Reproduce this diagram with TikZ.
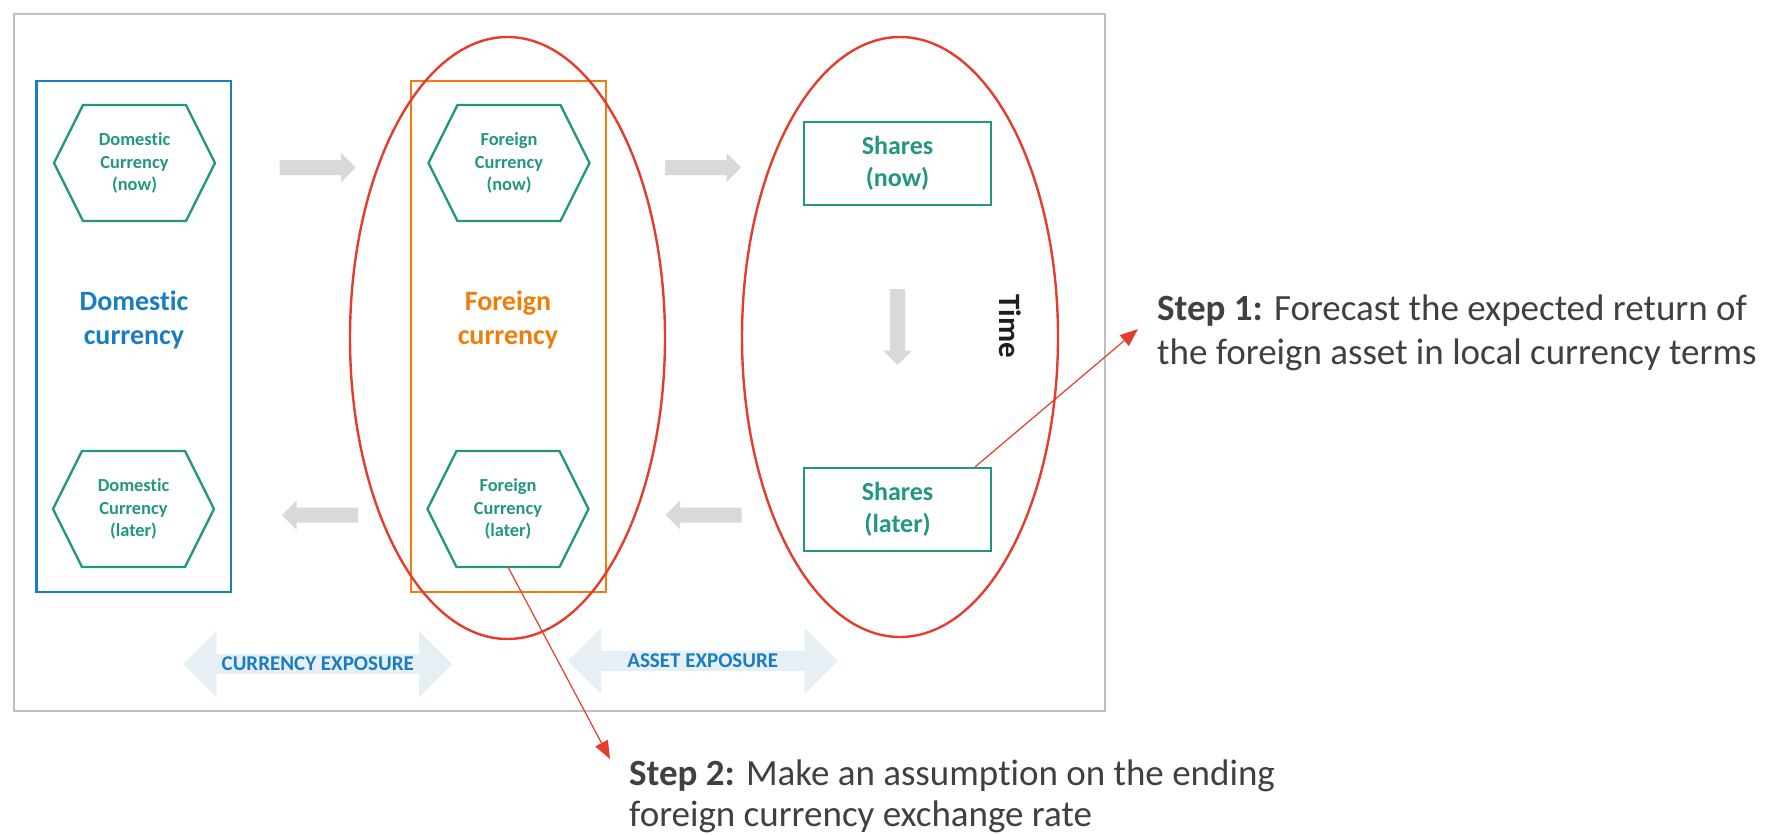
\documentclass[tikz,border=0pt]{standalone}
\usepackage{fontspec}
\setmainfont{Carlito}[Ligatures={NoCommon}]
\usetikzlibrary{shapes.arrows,shapes.geometric,arrows.meta,calc}
\definecolor{tealc}{RGB}{35,150,130}
\definecolor{bluec}{RGB}{25,125,192}
\definecolor{orangec}{RGB}{240,125,10}
\definecolor{redc}{RGB}{230,60,45}
\definecolor{grayarr}{RGB}{217,217,217}
\definecolor{framec}{RGB}{191,191,191}
\definecolor{expfill}{RGB}{230,240,244}
\definecolor{steptxt}{RGB}{64,64,64}
\definecolor{timetxt}{RGB}{30,30,30}
\begin{document}
\begin{tikzpicture}[x=1pt,y=-1pt,
  hexbox/.style={minimum width=161pt,minimum height=116pt,inner sep=0pt,outer sep=0pt,
    text=tealc,font=\fontsize{18.4}{22.4}\selectfont\bfseries,align=center},
  hexline/.style={draw=tealc,line width=2.4pt,line join=miter},
  colbox/.style={draw,line width=2.4pt,minimum width=195pt,minimum height=511pt,inner sep=0pt},
  biglabel/.style={font=\fontsize{28}{33.6}\selectfont\bfseries,align=center},
  sharebox/.style={draw=tealc,line width=2.4pt,minimum width=187pt,minimum height=83pt,inner sep=0pt,
    text=tealc,font=\fontsize{26}{31.4}\selectfont\bfseries,align=center},
  bound/.style={ellipse,draw=redc,line width=2.4pt,minimum width=315pt,minimum height=602pt,inner sep=0pt},
  blockarrow/.pic={\fill[grayarr] (-38,-7.5) -- (23.5,-7.5) -- (23.5,-14.5) -- (38,0)
      -- (23.5,14.5) -- (23.5,7.5) -- (-38,7.5) -- cycle;},
  exparrow/.style={double arrow,fill=expfill,draw=none,minimum height=269pt,minimum width=66pt,
    double arrow head extend=16pt,double arrow tip angle=90,inner sep=0pt,
    text=bluec,font=\fontsize{21}{24}\selectfont\bfseries},
  redarrow/.style={draw=redc,line width=1.2pt,-{Triangle[length=18pt,width=14pt]}},
  steptext/.style={anchor=base west,inner sep=0pt,text=steptxt,font=\fontsize{37}{45}\selectfont}
]
\useasboundingbox (0,0) rectangle (1767,835);
% outer frame
\node[draw=framec,line width=2pt,minimum width=1091pt,minimum height=697pt,inner sep=0pt] (frame) at (559,362) {};
% column boxes
\node[colbox,draw=bluec,minimum width=194.5pt] (dombox) at (133.75,336.5) {};
\node[colbox,draw=orangec] (forbox) at (508.5,336.5) {};
\node[biglabel,text=bluec] (domlab) at (134,320) {Domestic\\currency};
\node[biglabel,text=orangec] (forlab) at (508,320) {Foreign\\currency};
% hexagons
\node[hexbox] (dn) at (134.5,163) {Domestic\\Currency\\(now)};
\node[hexbox] (dl) at (133.5,509) {Domestic\\Currency\\(later)};
\node[hexbox] (fn) at (509,163) {Foreign\\Currency\\(now)};
\node[hexbox] (fl) at (508,509) {Foreign\\Currency\\(later)};
\foreach \n in {dn,dl,fn,fl}{
  \draw[hexline] (\n.west) -- ([xshift=29pt]\n.north west) -- ([xshift=-29pt]\n.north east)
    -- (\n.east) -- ([xshift=-29pt]\n.south east) -- ([xshift=29pt]\n.south west) -- cycle;
}
% shares
\node[sharebox] (sn) at (897.5,163.5) {Shares\\(now)};
\node[sharebox] (sl) at (897.5,509.5) {Shares\\(later)};
\node[font=\fontsize{31}{36}\selectfont\bfseries,text=timetxt,rotate=-90] (time) at (1010,326) {Time};
% ellipses
\node[bound] (el1) at (507.5,338) {};
\node[bound,minimum width=316pt,minimum height=600pt] (el2) at (900,337) {};
% gray arrows
\pic (a1) at (317.5,167.5) {blockarrow};
\pic (a2) at (703,167.5) {blockarrow};
\pic[rotate=180] (a3) at (320,515) {blockarrow};
\pic[rotate=180] (a4) at (703.7,515) {blockarrow};
\pic[rotate=-90] (a5) at (897.5,327) {blockarrow};
% exposure arrows
\node[exparrow,minimum height=268.5pt] (e1) at (317.75,664) {CURRENCY EXPOSURE};
\node[exparrow,minimum height=269.5pt] (e2) at (702.75,661) {ASSET EXPOSURE};
% steps
\node[steptext] (s1a) at (1157,320) {\textbf{Step 1:} Forecast the expected return of};
\node[steptext] (s1b) at (1157,364) {the foreign asset in local currency terms};
\node[steptext] (s2a) at (629,785) {\textbf{Step 2:} Make an assumption on the ending};
\node[steptext] (s2b) at (629,826) {foreign currency exchange rate};
\coordinate (t1) at (1138,329);
\coordinate (t2) at (610,759);
\draw[redarrow] ([xshift=-17pt]sl.north east) -- (t1);
\draw[redarrow] (fl.south) -- (t2);
\end{tikzpicture}
\end{document}
